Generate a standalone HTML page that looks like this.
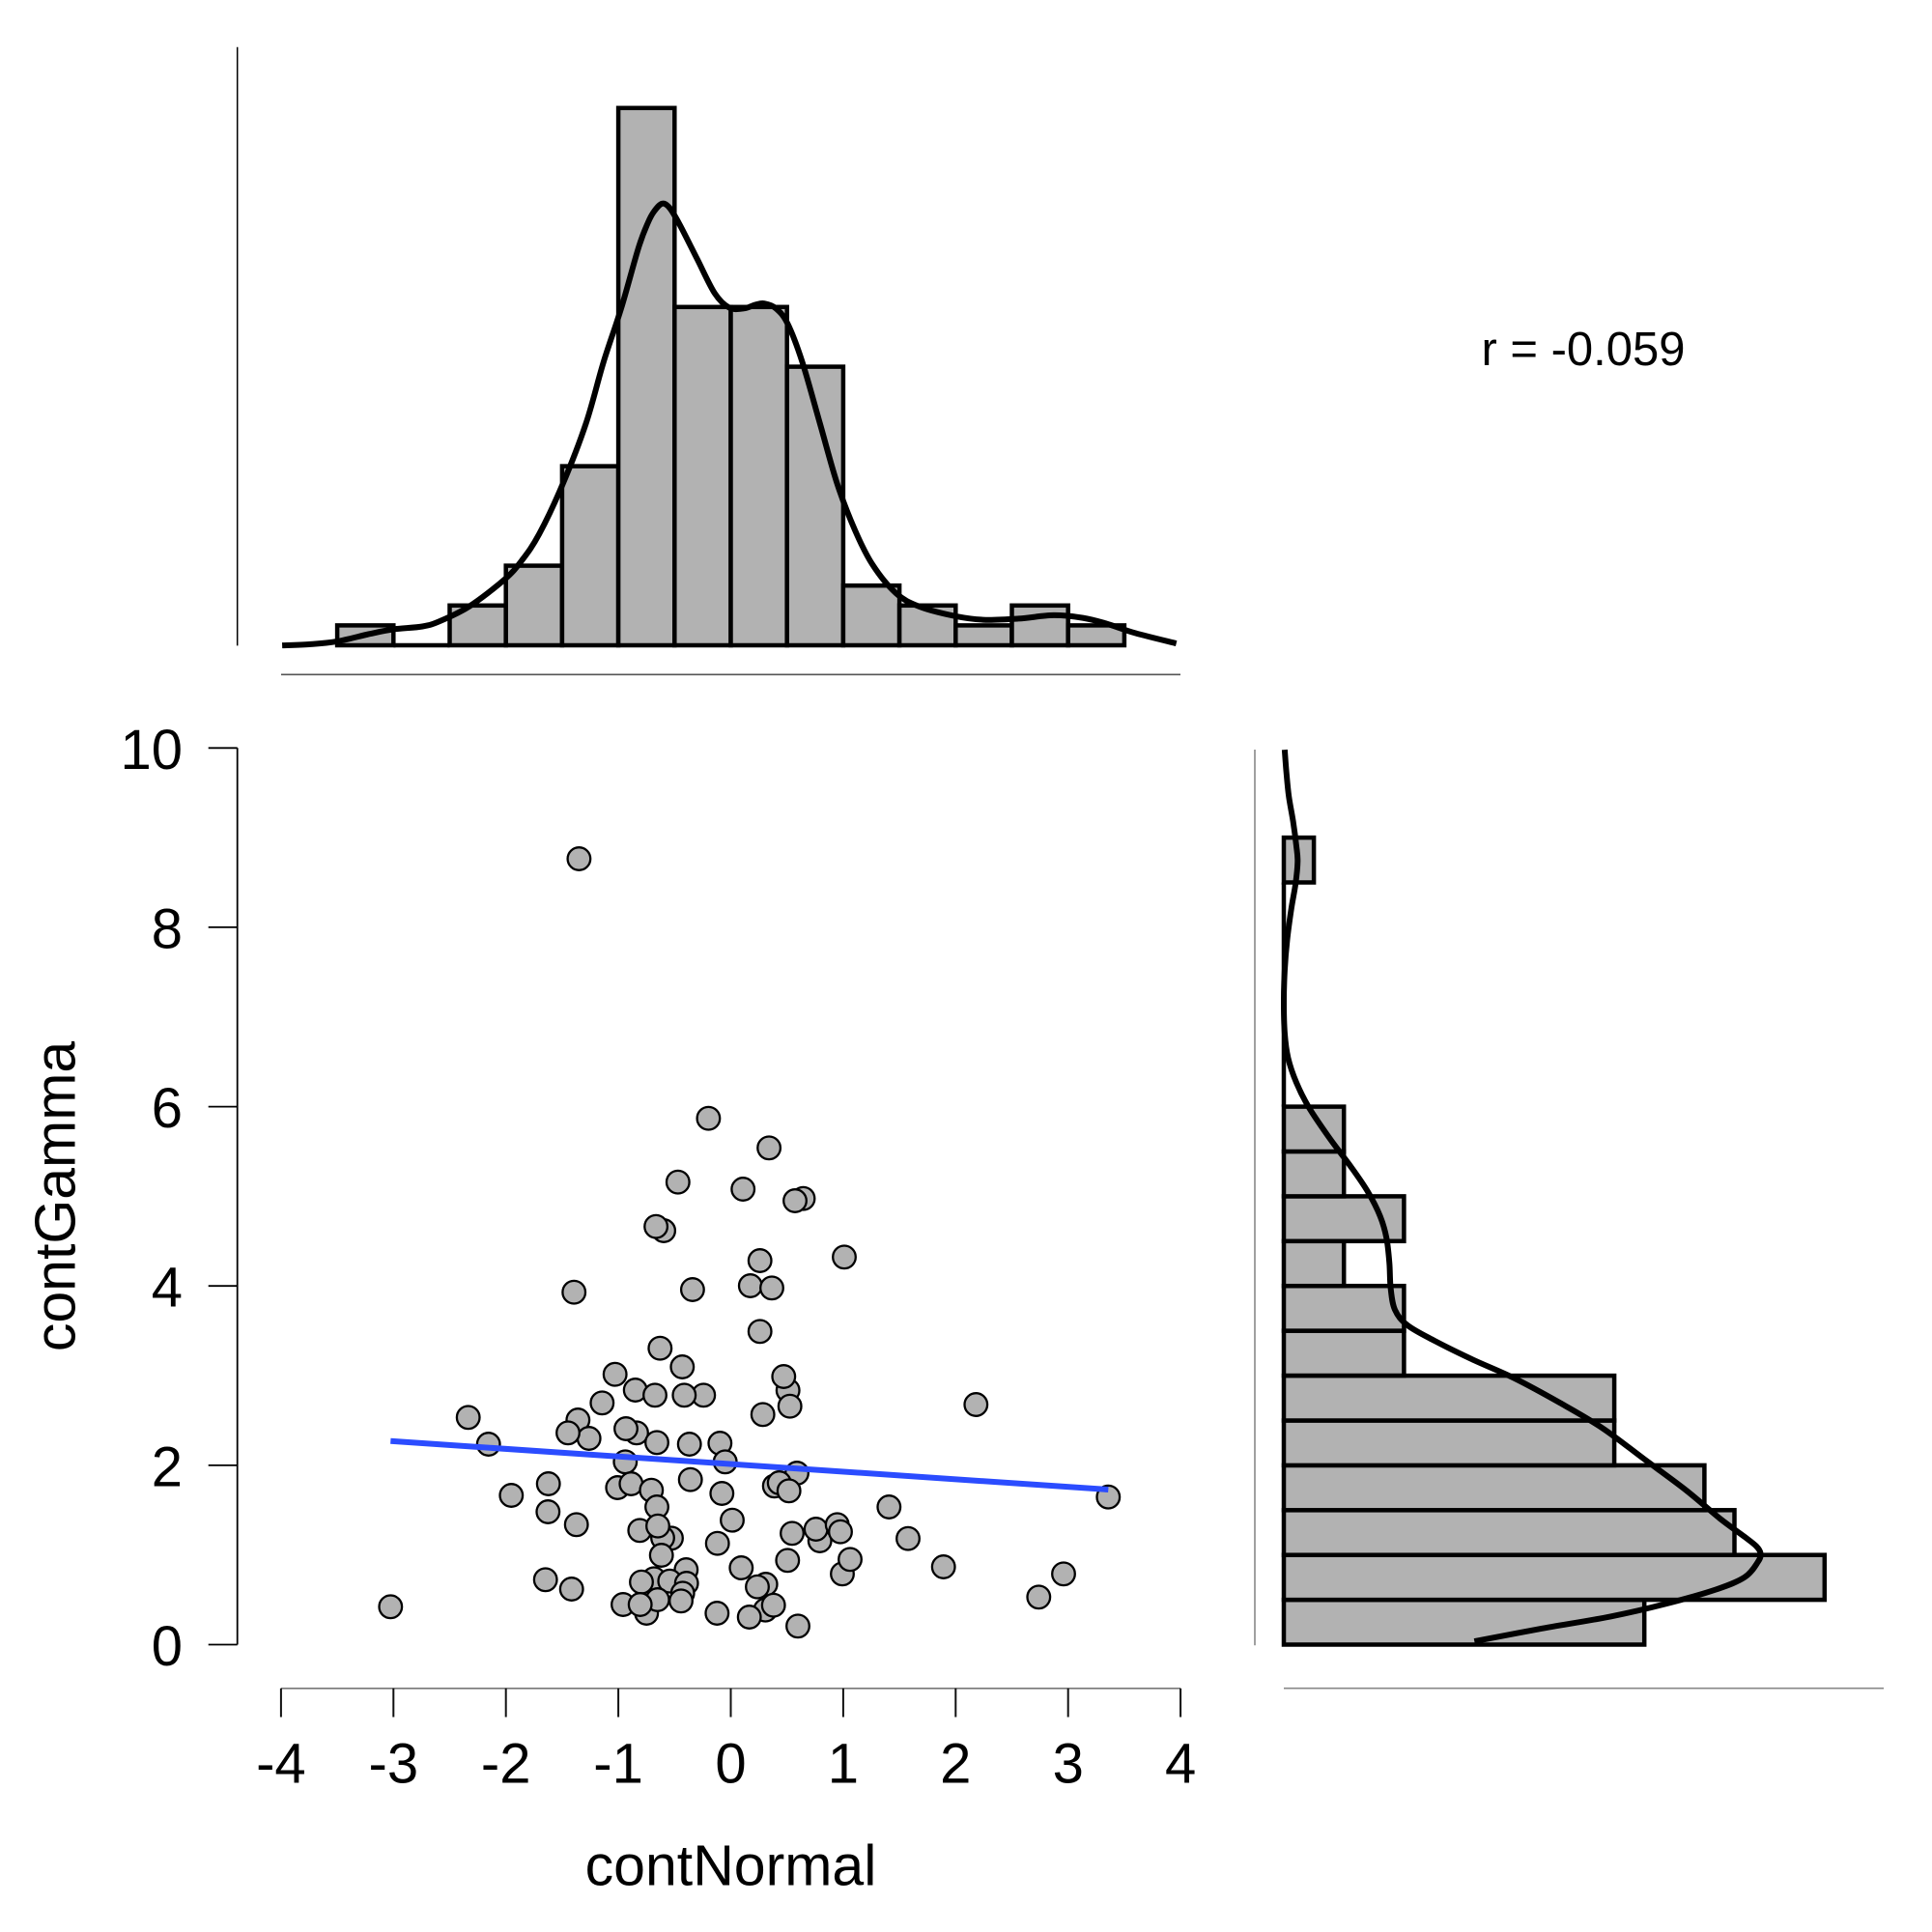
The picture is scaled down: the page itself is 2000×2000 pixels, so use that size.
<!DOCTYPE html>
<html><head><meta charset="utf-8"><style>
html,body{margin:0;padding:0;background:#fff;}
svg{display:block;}
text{font-family:"Liberation Sans",Arial,sans-serif;fill:#000;}
</style></head><body>
<svg id="chart" width="2000" height="2000" viewBox="0 0 2000 2000" xmlns="http://www.w3.org/2000/svg">
<rect width="2000" height="2000" fill="#fff"/>

<line x1="245.7" y1="48.7" x2="245.7" y2="668.4" stroke="#000" stroke-width="1.5"/>
<line x1="291" y1="698.3" x2="1222" y2="698.3" stroke="#555" stroke-width="1.6"/>
<g fill="#b2b2b2" stroke="#000" stroke-width="4.5">
<rect x="349.1" y="647.4" width="58.2" height="20.6"/>
<line x1="407.3" y1="668" x2="465.5" y2="668"/>
<rect x="465.5" y="626.8" width="58.2" height="41.2"/>
<rect x="523.7" y="585.6" width="58.2" height="82.4"/>
<rect x="581.9" y="482.6" width="58.2" height="185.4"/>
<rect x="640.1" y="111.8" width="58.2" height="556.2"/>
<rect x="698.3" y="317.8" width="58.2" height="350.2"/>
<rect x="756.5" y="317.8" width="58.2" height="350.2"/>
<rect x="814.7" y="379.6" width="58.2" height="288.4"/>
<rect x="872.9" y="606.2" width="58.2" height="61.8"/>
<rect x="931.1" y="626.8" width="58.2" height="41.2"/>
<rect x="989.3" y="647.4" width="58.2" height="20.6"/>
<rect x="1047.5" y="626.8" width="58.2" height="41.2"/>
<rect x="1105.7" y="647.4" width="58.2" height="20.6"/>
</g>
<polyline class="kde" fill="none" stroke="#000" stroke-width="6" stroke-linejoin="round" points="292.1,668.1 320,667 348.4,664.1 382.8,656.2 407,651.5 437.3,648.5 455.4,643 485.7,627.8 522,600.1 540.1,580.3 558.3,552.6 582.5,501.2 606.7,438 624.8,374.7 643,319.3 661.1,256.1 671,230 677,219 685.3,210.8 693,215 703.5,232.3 721.6,267.9 739.8,303.5 754.9,318.5 770,319.3 782.1,315.4 791.2,314.2 803.3,319.3 815.4,335.2 830.5,374.7 848.7,438 866.8,501.2 885,548.7 903.1,584.3 927.3,613.9 951.5,627.8 987.8,637.6 1018,641.6 1054.4,640.4 1090.6,636.9 1120.9,639.6 1145.1,645.5 1175.3,655.4 1217.7,666.1"/>

<text x="1639" y="378" font-size="49" text-anchor="middle">r = -0.059</text>

<g stroke="#000" stroke-width="1.8">
<line x1="245.7" y1="774.3" x2="245.7" y2="1702.5"/>
<line x1="215.7" y1="774.3" x2="245.7" y2="774.3"/>
<line x1="215.7" y1="959.9" x2="245.7" y2="959.9"/>
<line x1="215.7" y1="1145.6" x2="245.7" y2="1145.6"/>
<line x1="215.7" y1="1331.2" x2="245.7" y2="1331.2"/>
<line x1="215.7" y1="1516.9" x2="245.7" y2="1516.9"/>
<line x1="215.7" y1="1702.5" x2="245.7" y2="1702.5"/>
</g>
<line x1="290.9" y1="1747.8" x2="1222.1" y2="1747.8" stroke="#777" stroke-width="1.6"/>
<g stroke="#111" stroke-width="2">
<line x1="290.9" y1="1747.8" x2="290.9" y2="1777.5"/>
<line x1="407.3" y1="1747.8" x2="407.3" y2="1777.5"/>
<line x1="523.7" y1="1747.8" x2="523.7" y2="1777.5"/>
<line x1="640.1" y1="1747.8" x2="640.1" y2="1777.5"/>
<line x1="756.5" y1="1747.8" x2="756.5" y2="1777.5"/>
<line x1="872.9" y1="1747.8" x2="872.9" y2="1777.5"/>
<line x1="989.3" y1="1747.8" x2="989.3" y2="1777.5"/>
<line x1="1105.7" y1="1747.8" x2="1105.7" y2="1777.5"/>
<line x1="1222.1" y1="1747.8" x2="1222.1" y2="1777.5"/>
</g>
<g font-size="58" text-anchor="end">
<text x="189" y="796">10</text>
<text x="189" y="981.5">8</text>
<text x="189" y="1167">6</text>
<text x="189" y="1352.7">4</text>
<text x="189" y="1538.4">2</text>
<text x="189" y="1724">0</text>
</g>
<g font-size="58" text-anchor="middle">
<text x="290.9" y="1845.5">-4</text>
<text x="407.3" y="1845.5">-3</text>
<text x="523.7" y="1845.5">-2</text>
<text x="640.1" y="1845.5">-1</text>
<text x="756.5" y="1845.5">0</text>
<text x="872.9" y="1845.5">1</text>
<text x="989.3" y="1845.5">2</text>
<text x="1105.7" y="1845.5">3</text>
<text x="1222.1" y="1845.5">4</text>
</g>
<text x="756.5" y="1951.5" font-size="59" text-anchor="middle">contNormal</text>
<text transform="translate(77.5,1238.5) rotate(-90)" font-size="59" text-anchor="middle">contGamma</text>

<g fill="#b2b2b2" stroke="#000" stroke-width="2.3">
<circle cx="599.4" cy="889" r="11.8"/>
<circle cx="733.4" cy="1157.7" r="11.8"/>
<circle cx="796.1" cy="1188.3" r="11.8"/>
<circle cx="701.8" cy="1223.7" r="11.8"/>
<circle cx="769.2" cy="1231" r="11.8"/>
<circle cx="831.5" cy="1240.7" r="11.8"/>
<circle cx="823" cy="1243" r="11.8"/>
<circle cx="687.1" cy="1274" r="11.8"/>
<circle cx="679.1" cy="1269.7" r="11.8"/>
<circle cx="874" cy="1301.3" r="11.8"/>
<circle cx="786.7" cy="1305" r="11.8"/>
<circle cx="594.2" cy="1337.7" r="11.8"/>
<circle cx="716.9" cy="1335" r="11.8"/>
<circle cx="776.8" cy="1331" r="11.8"/>
<circle cx="799" cy="1333.3" r="11.8"/>
<circle cx="786.7" cy="1378.3" r="11.8"/>
<circle cx="683.3" cy="1395.7" r="11.8"/>
<circle cx="706.3" cy="1415" r="11.8"/>
<circle cx="636.7" cy="1422.7" r="11.8"/>
<circle cx="815.7" cy="1439.3" r="11.8"/>
<circle cx="817.7" cy="1455.7" r="11.8"/>
<circle cx="811.3" cy="1425" r="11.8"/>
<circle cx="657.7" cy="1439" r="11.8"/>
<circle cx="678" cy="1444.3" r="11.8"/>
<circle cx="728.3" cy="1444.3" r="11.8"/>
<circle cx="708.3" cy="1444.3" r="11.8"/>
<circle cx="623.3" cy="1452.3" r="11.8"/>
<circle cx="789.7" cy="1464.3" r="11.8"/>
<circle cx="484.7" cy="1467.3" r="11.8"/>
<circle cx="598.3" cy="1470" r="11.8"/>
<circle cx="609.7" cy="1489" r="11.8"/>
<circle cx="588" cy="1483.3" r="11.8"/>
<circle cx="659" cy="1483.3" r="11.8"/>
<circle cx="648" cy="1479" r="11.8"/>
<circle cx="505.7" cy="1495" r="11.8"/>
<circle cx="680" cy="1493.3" r="11.8"/>
<circle cx="713.7" cy="1495" r="11.8"/>
<circle cx="745.3" cy="1494" r="11.8"/>
<circle cx="750.7" cy="1513.3" r="11.8"/>
<circle cx="647.3" cy="1513.3" r="11.8"/>
<circle cx="825" cy="1525" r="11.8"/>
<circle cx="801.7" cy="1538.3" r="11.8"/>
<circle cx="806.7" cy="1535" r="11.8"/>
<circle cx="816.7" cy="1543.3" r="11.8"/>
<circle cx="714.7" cy="1531.7" r="11.8"/>
<circle cx="567.7" cy="1536" r="11.8"/>
<circle cx="529.3" cy="1548" r="11.8"/>
<circle cx="639.3" cy="1540" r="11.8"/>
<circle cx="653.3" cy="1536" r="11.8"/>
<circle cx="674.3" cy="1542.7" r="11.8"/>
<circle cx="747.3" cy="1546" r="11.8"/>
<circle cx="680" cy="1560" r="11.8"/>
<circle cx="567.3" cy="1565" r="11.8"/>
<circle cx="596.7" cy="1578.3" r="11.8"/>
<circle cx="758" cy="1573.7" r="11.8"/>
<circle cx="920.3" cy="1560" r="11.8"/>
<circle cx="695" cy="1592.3" r="11.8"/>
<circle cx="686" cy="1592" r="11.8"/>
<circle cx="662.3" cy="1584.3" r="11.8"/>
<circle cx="681" cy="1579.7" r="11.8"/>
<circle cx="848.7" cy="1595" r="11.8"/>
<circle cx="820" cy="1587.3" r="11.8"/>
<circle cx="844.7" cy="1583" r="11.8"/>
<circle cx="866.7" cy="1578.3" r="11.8"/>
<circle cx="870" cy="1585.7" r="11.8"/>
<circle cx="940" cy="1592.7" r="11.8"/>
<circle cx="742.7" cy="1597.7" r="11.8"/>
<circle cx="684.7" cy="1610" r="11.8"/>
<circle cx="815.3" cy="1615.3" r="11.8"/>
<circle cx="872" cy="1629.3" r="11.8"/>
<circle cx="880" cy="1614.3" r="11.8"/>
<circle cx="767.3" cy="1623" r="11.8"/>
<circle cx="710.3" cy="1625" r="11.8"/>
<circle cx="564.7" cy="1635.3" r="11.8"/>
<circle cx="591.7" cy="1645" r="11.8"/>
<circle cx="669.3" cy="1670" r="11.8"/>
<circle cx="677" cy="1634.3" r="11.8"/>
<circle cx="693.3" cy="1636.7" r="11.8"/>
<circle cx="710.7" cy="1639" r="11.8"/>
<circle cx="664" cy="1637.7" r="11.8"/>
<circle cx="792.7" cy="1640" r="11.8"/>
<circle cx="784" cy="1642.7" r="11.8"/>
<circle cx="706.7" cy="1649.3" r="11.8"/>
<circle cx="680.7" cy="1656" r="11.8"/>
<circle cx="705" cy="1657.3" r="11.8"/>
<circle cx="645" cy="1661" r="11.8"/>
<circle cx="662.7" cy="1661" r="11.8"/>
<circle cx="792.3" cy="1666.7" r="11.8"/>
<circle cx="800.7" cy="1661.7" r="11.8"/>
<circle cx="742.3" cy="1670" r="11.8"/>
<circle cx="775.7" cy="1674" r="11.8"/>
<circle cx="826" cy="1683.3" r="11.8"/>
<circle cx="404.3" cy="1663.3" r="11.8"/>
<circle cx="1101" cy="1629.3" r="11.8"/>
<circle cx="1075.3" cy="1653.3" r="11.8"/>
<circle cx="1010.3" cy="1454" r="11.8"/>
<circle cx="976.7" cy="1622" r="11.8"/>
<circle cx="1147.3" cy="1549.7" r="11.8"/>
</g>
<line x1="404.3" y1="1491.8" x2="1147.3" y2="1542" stroke="#2b4cff" stroke-width="6" stroke-linecap="butt"/>

<line x1="1299" y1="776" x2="1299" y2="1703.3" stroke="#888" stroke-width="1.6"/>
<line x1="1329" y1="1747.7" x2="1950" y2="1747.7" stroke="#888" stroke-width="1.6"/>
<g fill="#b2b2b2" stroke="#000" stroke-width="4.5">
<rect x="1329" y="1656.1" width="373.2" height="46.4"/>
<rect x="1329" y="1609.7" width="559.8" height="46.4"/>
<rect x="1329" y="1563.3" width="466.5" height="46.4"/>
<rect x="1329" y="1516.9" width="435.4" height="46.4"/>
<rect x="1329" y="1470.5" width="342.1" height="46.4"/>
<rect x="1329" y="1424.1" width="342.1" height="46.4"/>
<rect x="1329" y="1377.6" width="124.4" height="46.4"/>
<rect x="1329" y="1331.2" width="124.4" height="46.4"/>
<rect x="1329" y="1284.8" width="62.2" height="46.4"/>
<rect x="1329" y="1238.4" width="124.4" height="46.4"/>
<rect x="1329" y="1192" width="62.2" height="46.4"/>
<rect x="1329" y="1145.6" width="62.2" height="46.4"/>
<line x1="1329" y1="1145.6" x2="1329" y2="913.5"/>
<rect x="1329" y="867.1" width="31.1" height="46.4"/>
</g>
<polyline class="kde" fill="none" stroke="#000" stroke-width="6" stroke-linejoin="round" points="1329.9,776.1 1331.6,798.6 1334.2,824.4 1338.6,850.2 1342,875.9 1343.3,892 1341.2,914.6 1336.8,940.4 1332.5,972.6 1329.9,1004.8 1329,1037 1329.9,1069.2 1333.4,1095 1342,1120.7 1355,1146.5 1376.7,1178.7 1398.4,1207.7 1415.8,1233.4 1428.8,1259.2 1435.3,1281.7 1438.3,1307.5 1439.6,1333.3 1444,1355.8 1457,1371.9 1485.1,1388 1524.2,1407.3 1567.5,1426.7 1615.2,1452.4 1658.6,1478.2 1702,1510.4 1745.3,1542.6 1780,1571.6 1806,1590.9 1818,1600.5 1822.5,1608 1819.9,1616.7 1806,1632.8 1775.7,1645.7 1723.6,1660.5 1667.3,1673.4 1593.6,1686.3 1526.3,1699.1"/>
</svg>
<script>
(function(){
  var NS="http://www.w3.org/2000/svg";
  var lines=document.querySelectorAll("polyline.kde");
  for(var k=0;k<lines.length;k++){
    var pl=lines[k];
    var raw=pl.getAttribute("points").trim().split(/\s+/);
    var p=[];
    for(var i=0;i<raw.length;i++){var a=raw[i].split(",");p.push([+a[0],+a[1]]);}
    var d="M"+p[0][0]+","+p[0][1];
    for(var i=0;i<p.length-1;i++){
      var p0=p[i>0?i-1:i],p1=p[i],p2=p[i+1],p3=p[i+2<p.length?i+2:i+1];
      var c1x=p1[0]+(p2[0]-p0[0])/6,c1y=p1[1]+(p2[1]-p0[1])/6;
      var c2x=p2[0]-(p3[0]-p1[0])/6,c2y=p2[1]-(p3[1]-p1[1])/6;
      d+=" C"+c1x.toFixed(2)+","+c1y.toFixed(2)+" "+c2x.toFixed(2)+","+c2y.toFixed(2)+" "+p2[0]+","+p2[1];
    }
    var path=document.createElementNS(NS,"path");
    path.setAttribute("d",d);
    path.setAttribute("fill","none");
    path.setAttribute("stroke","#000");
    path.setAttribute("stroke-width","6");
    path.setAttribute("stroke-linejoin","round");
    pl.parentNode.replaceChild(path,pl);
  }
})();
</script>
</body></html>
